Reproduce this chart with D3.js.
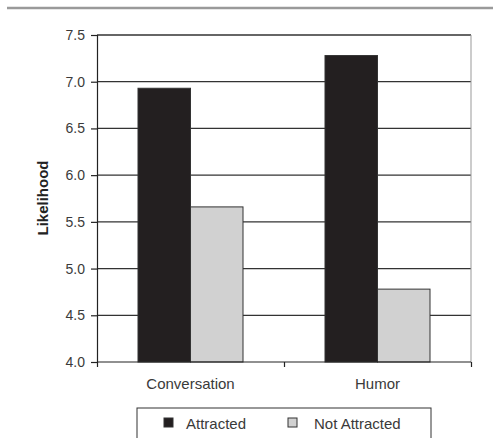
<!DOCTYPE html>
<html lang="en">
<head>
    <script src="https://d3js.org/d3.v7.min.js"></script>
    <title>Likelihood</title>
    <style>
        body { margin: 0; background: #fff; }
        text { font-family: Arial, "Liberation Sans", sans-serif; }
    </style>
</head>
<body>
    <div id="container"></div>
    <script>
        const categories = ["Conversation", "Humor"];
        const seriesNames = ["Attracted", "Not Attracted"];
        const attracted = [6.93, 7.28];
        const notAttracted = [5.66, 4.78];
        const yTicks = [4.0, 4.5, 5.0, 5.5, 6.0, 6.5, 7.0, 7.5];
        const colors = ["#231f20", "#d1d1d1"];

        const W = 493, H = 438;
        const plotLeft = 97, plotRight = 471, plotTop = 35, plotBottom = 362;

        const svg = d3.select("#container").append("svg").attr("width", W).attr("height", H);

        // grey rule across the top
        svg.append("line").attr("x1", 7).attr("x2", W).attr("y1", 8).attr("y2", 8)
           .attr("stroke", "#9a9a9a").attr("stroke-width", 2.5);

        const x0 = d3.scaleBand().domain(categories).range([plotLeft, plotRight]);
        const x1 = d3.scaleBand().domain(seriesNames).range([41, x0.bandwidth() - 41]);
        const y = d3.scaleLinear().domain([4.0, 7.5]).range([plotBottom, plotTop]);

        // gridlines
        svg.append("g").selectAll("line").data(yTicks.slice(1)).enter().append("line")
           .attr("x1", plotLeft).attr("x2", plotRight)
           .attr("y1", d => y(d)).attr("y2", d => y(d))
           .attr("stroke", "#333").attr("stroke-width", 1.3);

        // right border
        svg.append("line").attr("x1", plotRight).attr("x2", plotRight).attr("y1", plotTop).attr("y2", plotBottom)
           .attr("stroke", "#999").attr("stroke-width", 1);

        // bars
        const rows = categories.map((c, i) => ({cat: c, vals: [attracted[i], notAttracted[i]]}));
        const groups = svg.append("g").selectAll("g").data(rows).enter().append("g")
           .attr("transform", d => "translate(" + x0(d.cat) + ",0)");
        groups.selectAll("rect").data(d => d.vals.map((v, j) => ({s: seriesNames[j], v: v, j: j})))
           .enter().append("rect")
           .attr("x", d => x1(d.s))
           .attr("width", x1.bandwidth())
           .attr("y", d => y(d.v))
           .attr("height", d => y(4.0) - y(d.v))
           .attr("fill", d => colors[d.j])
           .attr("stroke", "#333").attr("stroke-width", 1);

        // y axis
        const yAxis = d3.axisLeft(y).tickValues(yTicks).tickFormat(d3.format(".1f")).tickSize(6).tickPadding(6);
        const gy = svg.append("g").attr("transform", "translate(" + plotLeft + ",0)").call(yAxis);
        gy.select(".domain").attr("stroke", "#222").attr("stroke-width", 1.2);
        gy.selectAll(".tick line").attr("stroke", "#222").attr("stroke-width", 1.2);
        gy.selectAll(".tick text").attr("font-size", 14).attr("fill", "#3a3a3a")
          .attr("font-family", "Arial, 'Liberation Sans', sans-serif");

        // x axis
        const xTickScale = d3.scaleLinear().domain([0, categories.length]).range([plotLeft, plotRight]);
        const gx = svg.append("g").attr("transform", "translate(0," + plotBottom + ")")
           .call(d3.axisBottom(xTickScale).ticks(categories.length).tickFormat("").tickSize(5));
        gx.select(".domain").attr("stroke", "#222").attr("stroke-width", 1.2).attr("d", "M" + plotLeft + ",0H" + plotRight);
        gx.selectAll(".tick line").attr("stroke", "#222").attr("stroke-width", 1.2);

        svg.append("g").selectAll("text").data(categories).enter().append("text")
           .attr("x", d => x0(d) + x0.bandwidth() / 2)
           .attr("y", 389)
           .attr("text-anchor", "middle")
           .attr("font-size", 15).attr("fill", "#3a3a3a")
           .text(d => d);

        // y label
        svg.append("text")
           .attr("transform", "translate(48,198) rotate(-90)")
           .attr("text-anchor", "middle")
           .attr("font-size", 15).attr("font-weight", "bold").attr("fill", "#222")
           .text("Likelihood");

        // legend
        const legend = svg.append("g");
        legend.append("rect").attr("x", 137).attr("y", 408).attr("width", 294).attr("height", 40)
           .attr("fill", "#fff").attr("stroke", "#333").attr("stroke-width", 1);
        const legX = [164, 288];
        const items = legend.selectAll("g").data(seriesNames).enter().append("g")
           .attr("transform", (d, i) => "translate(" + legX[i] + ",418)");
        items.append("rect").attr("width", 9).attr("height", 9)
           .attr("fill", (d, i) => colors[i]).attr("stroke", "#333").attr("stroke-width", 1);
        items.append("text").attr("x", (d, i) => i === 0 ? 22 : 26).attr("y", 11)
           .attr("font-size", 15).attr("fill", "#3a3a3a").text(d => d);
    </script>
</body>
</html>
